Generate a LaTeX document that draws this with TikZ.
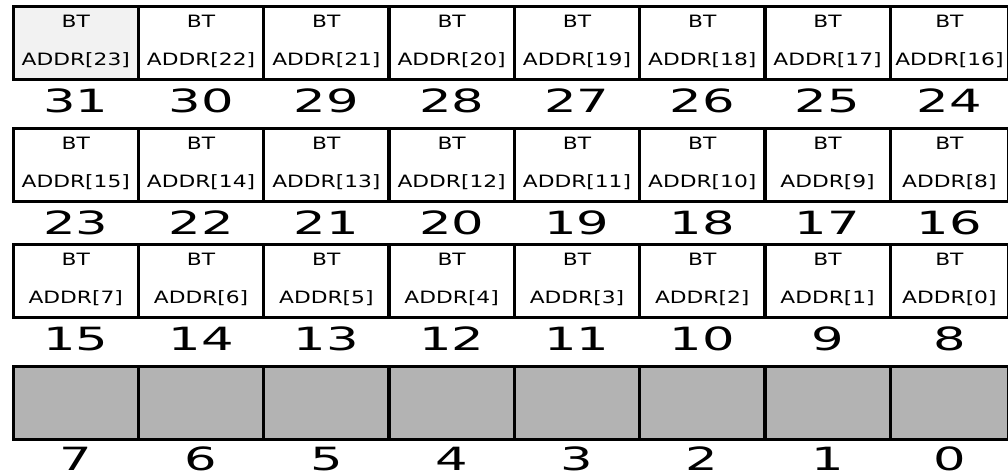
\documentclass[tikz,border=0pt]{standalone}
\usepackage{fontspec}
\setmainfont{DejaVu Sans}
\usepackage{graphicx}
\definecolor{lightcell}{HTML}{F2F2F2}
\definecolor{graycell}{HTML}{B3B3B3}
\newcommand\celltxt[1]{\scalebox{1.28}[1]{#1}}
\newcommand\bitnum[1]{\scalebox{1.6}[1]{#1}}
\begin{document}
\begin{tikzpicture}[x=1pt,y=-1pt,
  cell/.style={draw=black, line width=3.2pt, inner sep=0pt, anchor=north west, minimum height=73pt},
  celltext/.style={font=\fontsize{17}{17}\selectfont, inner sep=0pt, anchor=base},
  numtext/.style={font=\fontsize{32}{32}\selectfont, inner sep=0pt, anchor=base}]
\useasboundingbox (0,0) rectangle (1008,472);
\clip (0,0) rectangle (1008,472);
\foreach \r/\yt/\nd in {0/4.5/32,1/126.5/32,2/242.5/32,3/364.5/30} {
  \foreach \i in {0,...,7} {
    \pgfmathtruncatemacro\b{31-8*\r-\i}
    \pgfmathtruncatemacro\a{\b-8}
    \pgfmathsetmacro\xl{11.5+125.3*\i}
    \pgfmathsetmacro\w{\i==7 ? 118.4 : 125.3}
    \def\fillc{white}
    \ifnum\b=31 \def\fillc{lightcell}\fi
    \ifnum\r=3 \def\fillc{graycell}\fi
    \node[cell, fill=\fillc, minimum width=\w pt] (c\b) at (\xl,\yt) {};
    \ifnum\r<3
      \node[celltext] (bt\b) at ([yshift=-22.5pt]c\b.north) {\celltxt{BT}};
      \node[celltext] (ad\b) at ([yshift=-60.5pt]c\b.north) {\celltxt{ADDR[\a]}};
    \fi
    \node[numtext] (n\b) at ([yshift=-\nd pt]c\b.south) {\bitnum{\b}};
  }
}
\end{tikzpicture}
\end{document}
